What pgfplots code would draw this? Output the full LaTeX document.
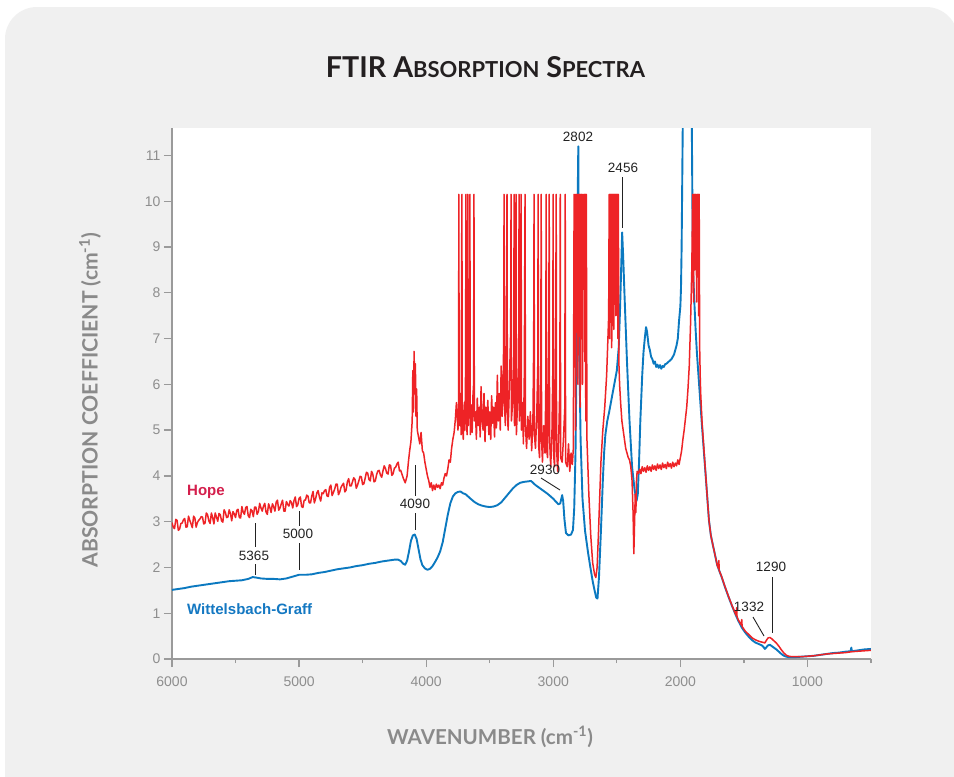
\documentclass[border=0pt]{standalone}
\usepackage{fontspec}
\setmainfont{Liberation Sans}
\newfontfamily\latofont{Lato}
\usepackage{pgfplots}
\pgfplotsset{compat=1.18}
\definecolor{panel}{HTML}{F0F0F0}
\definecolor{hopered}{HTML}{EE2326}
\definecolor{wgblue}{HTML}{0B79C0}
\definecolor{hopetext}{HTML}{D41F4C}
\definecolor{wgtext}{HTML}{1478C2}
\definecolor{labgray}{HTML}{8A8A8A}
\definecolor{tickgray}{HTML}{8E8E8E}
\definecolor{axisgray}{HTML}{9A9A9A}
\definecolor{annot}{HTML}{222222}
\definecolor{titlecol}{HTML}{231F20}
\begin{document}
\begin{tikzpicture}[x=1pt,y=1pt]
\useasboundingbox (0,0) rectangle (954,-777);
\clip (0,0) rectangle (954,-777);
\fill[white] (0,0) rectangle (954,-777);
\fill[panel, rounded corners=32pt] (5,-7) rectangle (958,-840);
% title
\node[text=titlecol, inner sep=0pt, anchor=base] at (485.5,-77) {\resizebox{319pt}{21pt}{\latofont\bfseries\fontsize{30}{30}\selectfont FTIR A{\fontsize{23}{23}\selectfont BSORPTION} S{\fontsize{23}{23}\selectfont PECTRA}}};
\begin{axis}[
  at={(172pt,-659pt)}, anchor=south west,
  scale only axis, width=699pt, height=531pt,
  xmin=500, xmax=6000, x dir=reverse,
  ymin=0, ymax=11.6,
  axis background/.style={fill=white},
  axis x line*=bottom, axis y line*=left,
  axis line style={draw=axisgray, line width=1.4pt},
  xtick={1000,2000,3000,4000,5000,6000},
  minor xtick={500,1500,2500,3500,4500,5500},
  ytick={0,1,2,3,4,5,6,7,8,9,10,11},
  tick align=outside,
  major tick length=8pt, minor tick length=4pt,
  every tick/.style={draw=axisgray, line width=1.3pt},
  tick label style={font=\fontsize{14}{14}\selectfont, text=tickgray},
  xticklabel style={yshift=-6pt},
  /pgf/number format/assume math mode=true,
  /pgf/number format/set thousands separator={},
  clip=true,
]
\addplot[wgblue, line width=1.9pt, line join=round] coordinates {
(6000,1.51)(5950,1.53)(5900,1.55)(5850,1.58)(5800,1.60)(5750,1.62)(5700,1.64)(5650,1.66)(5600,1.68)(5550,1.70)(5500,1.71)(5450,1.72)(5400,1.75)(5365,1.79)(5340,1.78)(5300,1.76)(5250,1.75)(5200,1.75)(5150,1.74)(5100,1.76)(5050,1.80)(5000,1.84)(4950,1.84)(4900,1.85)(4850,1.88)(4800,1.90)(4750,1.93)(4700,1.96)(4650,1.98)(4600,2.00)(4550,2.03)(4500,2.05)(4450,2.08)(4400,2.10)(4350,2.13)(4300,2.15)(4250,2.17)(4220,2.17)(4200,2.14)(4180,2.08)(4165,2.06)(4150,2.15)(4135,2.35)(4120,2.58)(4105,2.70)(4090,2.72)(4075,2.62)(4060,2.40)(4045,2.18)(4030,2.05)(4010,1.98)(3990,1.95)(3970,1.97)(3950,2.03)(3930,2.12)(3910,2.22)(3890,2.35)(3870,2.55)(3850,2.85)(3830,3.15)(3810,3.40)(3790,3.55)(3770,3.62)(3750,3.65)(3730,3.66)(3710,3.62)(3690,3.60)(3670,3.55)(3650,3.50)(3620,3.43)(3590,3.38)(3560,3.35)(3530,3.33)(3500,3.32)(3470,3.33)(3440,3.36)(3410,3.42)(3380,3.52)(3350,3.62)(3320,3.72)(3290,3.80)(3260,3.85)(3230,3.87)(3200,3.88)(3175,3.89)(3140,3.80)(3110,3.74)(3080,3.68)(3050,3.62)(3020,3.55)(3000,3.50)(2980,3.44)(2960,3.38)(2945,3.40)(2930,3.58)(2922,3.45)(2912,3.05)(2900,2.75)(2880,2.70)(2860,2.72)(2845,2.82)(2835,3.30)(2825,4.50)(2815,7.00)(2808,10.00)(2803,11.20)(2799,9.00)(2794,6.50)(2785,4.80)(2770,3.50)(2750,2.80)(2725,2.30)(2705,1.95)(2690,1.70)(2675,1.50)(2662,1.34)(2652,1.32)(2640,1.80)(2625,2.80)(2610,3.90)(2600,4.50)(2590,4.90)(2575,5.20)(2560,5.40)(2540,5.70)(2520,6.00)(2500,6.30)(2485,6.80)(2475,7.60)(2465,8.60)(2458,9.32)(2450,8.80)(2440,8.00)(2420,6.50)(2400,5.20)(2380,4.20)(2360,3.70)(2345,3.45)(2335,3.60)(2325,4.30)(2315,5.20)(2300,6.20)(2290,6.70)(2280,7.00)(2270,7.25)(2262,7.15)(2250,6.85)(2240,6.75)(2230,6.60)(2220,6.55)(2210,6.45)(2200,6.50)(2190,6.38)(2180,6.43)(2170,6.36)(2160,6.42)(2150,6.34)(2140,6.40)(2130,6.38)(2120,6.44)(2110,6.45)(2090,6.50)(2070,6.55)(2050,6.65)(2030,6.85)(2020,7.00)(2010,7.40)(2000,7.70)(1995,8.10)(1990,9.00)(1985,10.50)(1980,12.00)(1975,12.50)(1912,12.50)(1908,11.00)(1904,9.50)(1900,8.50)(1890,7.80)(1880,7.20)(1870,6.70)(1860,6.30)(1850,5.90)(1840,5.50)(1830,5.10)(1810,4.35)(1790,3.60)(1775,3.03)(1760,2.70)(1745,2.50)(1730,2.31)(1710,2.05)(1690,1.90)(1675,1.79)(1650,1.58)(1620,1.35)(1595,1.17)(1570,1.00)(1545,0.84)(1515,0.68)(1490,0.58)(1460,0.48)(1435,0.41)(1410,0.36)(1385,0.33)(1360,0.30)(1345,0.26)(1335,0.22)(1325,0.25)(1310,0.30)(1295,0.31)(1280,0.28)(1265,0.25)(1245,0.21)(1225,0.16)(1205,0.11)(1185,0.07)(1165,0.05)(1145,0.04)(1100,0.04)(1050,0.05)(1000,0.06)(950,0.07)(900,0.09)(850,0.11)(800,0.13)(750,0.14)(700,0.16)(660,0.17)(655,0.25)(650,0.17)(600,0.19)(550,0.21)(500,0.22)
};
\addplot[hopered, line width=1.5pt, line join=round] coordinates {
(6000,2.98)(5990,2.88)(5980,2.85)(5970,3.05)(5960,3.03)(5950,2.81)(5940,2.84)(5930,2.96)(5920,2.97)(5910,3.04)(5900,3.07)(5890,2.88)(5880,2.89)(5870,3.12)(5860,3.03)(5850,2.95)(5840,2.87)(5830,3.12)(5820,3.08)(5810,2.88)(5800,2.98)(5790,3.03)(5780,3.06)(5770,3.11)(5760,3.10)(5750,2.95)(5740,2.97)(5730,3.19)(5720,3.15)(5710,3.02)(5700,2.96)(5690,3.19)(5680,3.09)(5670,2.95)(5660,3.19)(5650,3.10)(5640,3.01)(5630,3.18)(5620,3.15)(5610,3.02)(5600,2.99)(5590,3.26)(5580,3.20)(5570,3.09)(5560,3.10)(5550,3.26)(5540,3.18)(5530,3.02)(5520,3.22)(5510,3.17)(5500,3.09)(5490,3.25)(5480,3.27)(5470,3.09)(5460,3.08)(5450,3.33)(5440,3.21)(5430,3.16)(5420,3.31)(5410,3.33)(5400,3.13)(5390,3.09)(5380,3.27)(5370,3.24)(5360,3.11)(5350,3.32)(5340,3.32)(5330,3.16)(5320,3.22)(5310,3.40)(5300,3.30)(5290,3.23)(5280,3.34)(5270,3.40)(5260,3.21)(5250,3.16)(5240,3.39)(5230,3.31)(5220,3.20)(5210,3.39)(5200,3.33)(5190,3.23)(5180,3.43)(5170,3.47)(5160,3.25)(5150,3.30)(5140,3.39)(5130,3.47)(5120,3.23)(5110,3.23)(5100,3.44)(5090,3.38)(5080,3.34)(5070,3.46)(5060,3.42)(5050,3.30)(5040,3.46)(5030,3.54)(5020,3.33)(5010,3.37)(5000,3.51)
(4990,3.54)(4980,3.33)(4970,3.31)(4960,3.47)(4950,3.47)(4940,3.58)(4930,3.56)(4920,3.41)(4910,3.41)(4900,3.56)(4890,3.66)(4880,3.41)(4870,3.50)(4860,3.63)(4850,3.68)(4840,3.54)(4830,3.45)(4820,3.63)(4810,3.61)(4800,3.68)(4790,3.70)(4780,3.56)(4770,3.55)(4760,3.75)(4750,3.80)(4740,3.57)(4730,3.64)(4720,3.71)(4710,3.82)(4700,3.82)(4690,3.59)(4680,3.65)(4670,3.75)(4660,3.80)(4650,3.84)(4640,3.65)(4630,3.69)(4620,3.87)(4610,3.94)(4600,3.78)(4590,3.78)(4580,3.87)(4570,3.96)(4560,3.92)(4550,3.73)(4540,3.80)(4530,3.89)(4520,3.99)(4510,3.98)(4500,3.81)(4490,3.83)(4480,3.95)(4470,4.08)(4460,4.06)(4450,3.92)(4440,3.89)(4430,4.10)(4420,4.04)(4410,3.87)(4400,3.89)(4390,4.03)(4380,4.11)(4370,4.12)(4360,4.02)(4350,3.97)(4340,4.11)(4330,4.22)(4320,4.16)(4310,4.06)(4300,4.04)(4290,4.24)(4280,4.23)(4270,4.01)(4260,4.05)(4250,4.17)(4240,4.19)(4230,4.26)(4220,4.30)(4210,4.11)(4200,4.12)
(4180,3.95)(4165,3.85)(4150,4.00)(4140,4.30)(4130,4.55)(4120,4.75)(4110,5.20)(4105,6.30)(4100,5.40)(4095,6.72)(4090,5.80)(4085,6.45)(4080,5.30)(4075,5.90)(4070,5.00)(4060,4.85)(4050,4.70)(4040,4.95)(4030,4.55)(4020,4.50)(4010,4.30)(4000,4.15)(3990,4.00)(3980,3.90)(3970,3.75)(3960,3.85)(3950,3.68)(3940,3.80)(3930,3.70)(3920,3.82)(3910,3.75)(3900,3.80)(3890,3.72)(3880,3.85)(3870,3.80)(3860,3.95)(3850,4.05)(3840,4.00)(3830,4.15)(3820,4.35)(3810,4.30)(3800,4.60)(3790,4.80)(3780,4.95)
(3770,5.25)(3762,5.60)(3750,5.00)(3745,5.30)(3743,10.15)(3740,5.10)(3730,5.80)(3725,4.90)(3721,8.60)(3719,10.15)(3716,5.20)(3708,4.80)(3700,5.60)(3695,5.00)(3690,6.30)(3687,10.15)(3684,5.40)(3678,4.90)(3674,6.90)(3672,10.15)(3669,5.10)(3662,5.70)(3658,6.50)(3656,10.15)(3653,4.90)(3645,5.55)(3638,4.95)(3632,5.75)(3627,6.00)(3624,10.15)(3621,5.20)(3612,5.40)(3605,4.80)(3598,5.70)(3590,5.10)(3582,5.50)(3575,4.85)(3568,5.95)(3560,5.20)(3552,5.00)(3545,5.80)(3537,4.75)(3530,5.50)(3522,5.10)(3515,5.65)(3507,4.90)(3500,5.40)(3492,4.80)(3485,5.75)(3477,5.15)(3470,5.50)(3462,4.85)(3455,5.60)(3447,5.05)(3440,6.20)(3432,5.20)(3425,5.80)(3417,5.00)(3410,6.40)(3402,5.30)(3395,5.90)(3390,7.00)(3387,10.15)(3384,5.60)(3377,5.10)(3370,6.80)(3364,10.15)(3361,5.40)(3355,5.00)(3345,6.00)(3335,7.20)(3332,10.15)(3329,5.20)(3320,5.60)(3311,6.50)(3308,10.15)(3305,5.10)(3296,7.80)(3293,10.15)(3290,4.90)(3280,5.70)(3272,6.50)(3269,10.15)(3266,5.20)(3258,7.80)(3253,10.15)(3250,5.00)(3242,5.60)(3235,4.70)(3228,6.20)(3222,10.15)(3219,5.10)(3210,4.60)(3200,5.30)(3190,4.80)(3180,5.40)(3170,4.55)(3160,5.20)(3154,6.90)(3151,10.15)(3148,4.90)(3140,4.60)(3130,5.30)(3122,6.40)(3119,10.15)(3116,4.70)(3108,4.40)(3098,6.50)(3095,10.15)(3092,4.80)(3085,4.30)(3075,5.10)(3065,4.50)(3059,5.90)(3056,10.15)(3053,4.60)(3045,4.40)(3035,7.30)(3032,10.15)(3029,4.80)(3020,4.20)(3010,5.00)(3004,6.20)(3001,10.15)(2998,4.50)(2990,4.20)(2980,7.60)(2977,10.15)(2974,4.60)(2965,4.10)(2955,5.10)(2948,6.00)(2945,10.15)(2942,4.40)(2930,4.30)(2920,4.80)(2909,5.50)(2906,10.15)(2903,4.30)(2890,4.20)(2880,4.70)(2870,4.10)(2860,4.50)(2850,4.25)(2842,4.60)
(2836,10.15)(2832,6.50)(2828,10.15)(2824,5.00)(2820,10.15)(2815,7.50)(2811,10.15)(2806,6.00)(2802,10.15)(2797,8.00)(2793,10.15)(2788,5.50)(2784,10.15)(2779,7.00)(2775,10.15)(2770,6.00)(2766,10.15)(2761,8.50)(2757,10.15)(2752,6.50)(2748,10.15)(2744,5.20)(2740,10.15)(2735,4.80)
(2720,3.60)(2705,2.70)(2690,2.10)(2675,1.85)(2665,1.78)(2655,2.00)(2645,2.70)(2635,3.50)(2625,4.30)(2610,5.00)(2595,5.50)(2580,6.20)(2570,7.00)
(2564,7.50)(2560,10.15)(2556,7.00)(2552,10.15)(2548,8.20)(2544,10.15)(2540,6.80)(2536,10.15)(2532,8.50)(2528,10.15)(2524,7.20)(2520,10.15)(2516,9.00)(2512,10.15)(2508,7.50)(2504,10.15)(2500,8.80)(2496,10.15)(2492,7.00)(2488,10.15)(2484,6.50)(2478,6.00)
(2470,5.60)(2460,5.20)(2450,5.00)(2440,4.80)(2430,4.60)(2420,4.50)(2410,4.40)(2400,4.35)(2390,4.20)(2380,3.90)(2372,3.20)(2366,2.30)(2360,3.00)(2355,3.60)(2350,3.20)(2345,3.90)(2340,4.10)(2330,4.05)
(2320,4.15)(2310,4.05)(2300,4.20)(2290,4.10)(2280,4.18)(2270,4.08)(2260,4.22)(2250,4.12)(2240,4.20)(2230,4.10)(2220,4.24)(2210,4.14)(2200,4.22)(2190,4.12)(2180,4.26)(2170,4.16)(2160,4.24)(2150,4.14)(2140,4.28)(2130,4.18)(2120,4.25)(2110,4.16)(2100,4.30)(2090,4.20)(2080,4.27)(2070,4.17)(2060,4.30)(2050,4.20)(2040,4.28)(2030,4.22)(2020,4.35)(2010,4.25)(2000,4.40)(1990,4.55)(1980,4.80)(1970,5.00)(1960,5.25)(1950,5.50)(1940,5.90)(1930,6.40)(1920,7.30)(1910,8.50)(1903,10.15)
(1896,7.80)(1892,10.15)(1888,8.50)(1884,10.15)(1880,9.00)(1876,10.15)(1872,7.80)(1868,10.15)(1864,8.60)(1860,10.15)(1856,7.50)(1852,10.15)(1848,6.80)(1844,6.20)(1840,5.80)(1830,5.20)
(1810,4.40)(1790,3.60)(1775,3.03)(1760,2.70)(1745,2.50)(1730,2.31)(1710,2.05)(1700,1.98)(1697,2.15)(1694,1.93)(1675,1.80)(1650,1.59)(1620,1.36)(1595,1.18)(1570,1.01)(1560,0.95)(1557,1.12)(1554,0.92)(1545,0.86)(1520,0.74)(1517,0.86)(1514,0.71)(1490,0.61)(1460,0.53)(1435,0.46)(1410,0.42)(1385,0.39)(1360,0.37)(1345,0.36)(1335,0.35)(1325,0.40)(1310,0.46)(1295,0.47)(1280,0.44)(1265,0.40)(1245,0.35)(1225,0.28)(1205,0.20)(1185,0.13)(1165,0.08)(1145,0.06)(1120,0.05)(1100,0.05)(1050,0.05)(1000,0.06)(950,0.07)(900,0.09)(850,0.11)(800,0.12)(750,0.13)(700,0.14)(650,0.16)(600,0.17)(550,0.18)(500,0.19)
};
\end{axis}
% axis labels
\node[text=labgray, inner sep=0pt] at (490,-737) {\resizebox{206pt}{!}{\latofont\bfseries\fontsize{17}{17}\selectfont WAVENUMBER (cm\textsuperscript{-1})}};
\node[text=labgray, inner sep=0pt, rotate=90] at (90,-400) {\resizebox{335pt}{!}{\latofont\bfseries\fontsize{17}{17}\selectfont ABSORPTION COEFFICIENT (cm\textsuperscript{-1})}};
% series labels
\node[text=hopetext, font=\bfseries\fontsize{15}{15}\selectfont, anchor=west, inner sep=0pt] at (187,-492) {Hope};
\node[text=wgtext, font=\bfseries\fontsize{15}{15}\selectfont, anchor=west, inner sep=0pt] at (187,-609) {Wittelsbach-Graff};
% annotations
\begin{scope}[every node/.style={text=annot, font=\fontsize{13.5}{13.5}\selectfont, inner sep=0pt}]
\node at (254,-556) {5365};
\node at (298,-534) {5000};
\node at (415,-504) {4090};
\node at (545,-470) {2930};
\node at (578,-137) {2802};
\node at (623,-168) {2456};
\node at (749,-607) {1332};
\node at (771,-567) {1290};
\end{scope}
\begin{scope}[draw=annot, line width=0.9pt]
\draw (255,-523) -- (255,-547);
\draw (255,-564) -- (255,-575);
\draw (299,-511) -- (299,-526);
\draw (299,-543) -- (299,-570);
\draw (415,-465) -- (415,-496);
\draw (415,-513) -- (415,-530);
\draw (541,-478) -- (560,-490);
\draw (622,-177) -- (622,-228);
\draw (753,-617) -- (764,-636);
\draw (772,-577) -- (772,-633);
\end{scope}
\end{tikzpicture}
\end{document}
